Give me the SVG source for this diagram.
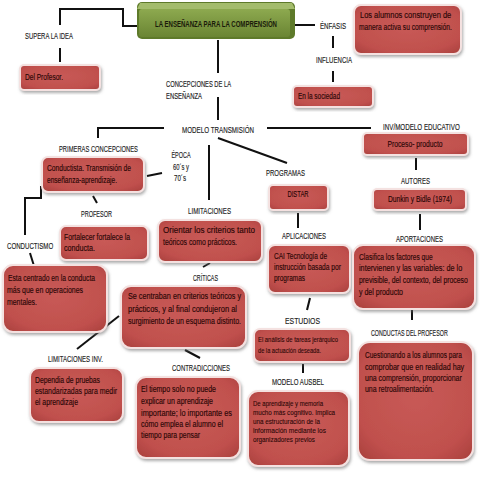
<svg xmlns="http://www.w3.org/2000/svg" width="480" height="480" viewBox="0 0 480 480">
<style>
text{font-family:"Liberation Sans",Arial,sans-serif;}
.lb{font-size:8.6px;fill:#1e1e1e;stroke:#1e1e1e;stroke-width:0.15;}
.bt{font-size:8.8px;fill:#2a0606;stroke:#2a0606;stroke-width:0.15;}
.bs{font-size:7.6px;fill:#2a0606;stroke:#2a0606;stroke-width:0.1;}
.box{fill:url(#rg);stroke:#f4e1e0;stroke-width:2;filter:url(#sh);}
.cn path{fill:none;stroke:#111;stroke-width:2;}
</style>
<defs>
<radialGradient id="rg" cx="50%" cy="45%" r="75%">
<stop offset="0" stop-color="#c85a56"/>
<stop offset="0.7" stop-color="#c0504d"/>
<stop offset="1" stop-color="#a63d3a"/>
</radialGradient>
<linearGradient id="gg" x1="0" y1="0" x2="0" y2="1">
<stop offset="0" stop-color="#8da94f"/>
<stop offset="1" stop-color="#6a8533"/>
</linearGradient>
<filter id="sh" x="-10%" y="-10%" width="125%" height="130%">
<feDropShadow dx="1" dy="2" stdDeviation="1.5" flood-color="#666" flood-opacity="0.55"/>
</filter>
</defs>
<rect width="480" height="480" fill="#ffffff"/>

<g class="cn" id="connectors">
<path d="M143,26 H123 V9 H60 V25"/>
<path d="M60,48 V62"/>
<path d="M218,40 V73"/>
<path d="M218,97 V120"/>
<path d="M164,128 H98 V138"/>
<path d="M267,128 H371"/>
<path d="M218,138 L287,163"/>
<path d="M209,145 V200"/>
<path d="M147,176 L162,173"/>
<path d="M93,196 L97,203"/>
<path d="M41,186 V198 H25 V235"/>
<path d="M30,253 L34,266"/>
<path d="M210,263 L203,267"/>
<path d="M119,316 L77,349"/>
<path d="M185,350 L200,358"/>
<path d="M292,25 H315"/>
<path d="M333,36 V48"/>
<path d="M333,71 V82"/>
<path d="M298,213 V228"/>
<path d="M416,158 V170"/>
<path d="M420,214 V230"/>
<path d="M310,298 L307,310"/>
<path d="M412,310 V320"/>
<path d="M303,364 V373"/>
</g>

<g id="title">
<rect x="137" y="2" width="158" height="37" rx="5" fill="#5e7a2a"/>
<polygon points="140,3 292,3 295,9 137,9" fill="#a4bc6c"/>
<rect x="139" y="9" width="151" height="28" rx="3" fill="url(#gg)"/>
<text x="216" y="27" text-anchor="middle" font-size="8.4" font-weight="bold" fill="#1a1a0a" textLength="122" lengthAdjust="spacingAndGlyphs">LA ENSEÑANZA PARA LA COMPRENSIÓN</text>
</g>

<g id="labels">
<text class="lb" x="25" y="39" textLength="48" lengthAdjust="spacingAndGlyphs">SUPERA LA IDEA</text>
<text class="lb" x="166" y="87" textLength="65" lengthAdjust="spacingAndGlyphs">CONCEPCIONES DE LA</text>
<text class="lb" x="166" y="99" textLength="36" lengthAdjust="spacingAndGlyphs">ENSEÑANZA</text>
<text class="lb" x="182" y="133" textLength="72" lengthAdjust="spacingAndGlyphs">MODELO TRANSMISIÓN</text>
<text class="lb" x="59" y="152" textLength="79" lengthAdjust="spacingAndGlyphs">PRIMERAS CONCEPCIONES</text>
<text class="lb" x="181" y="158" text-anchor="middle" textLength="19" lengthAdjust="spacingAndGlyphs">ÉPOCA</text>
<text class="lb" x="181" y="170" text-anchor="middle" textLength="16" lengthAdjust="spacingAndGlyphs">60´s y</text>
<text class="lb" x="180" y="181" text-anchor="middle" textLength="12" lengthAdjust="spacingAndGlyphs">70´s</text>
<text class="lb" x="320" y="29" textLength="26" lengthAdjust="spacingAndGlyphs">ÉNFASIS</text>
<text class="lb" x="316" y="63" textLength="36" lengthAdjust="spacingAndGlyphs">INFLUENCIA</text>
<text class="lb" transform="translate(383,130) scale(0.8,1)" textLength="96" lengthAdjust="spacingAndGlyphs">INV/MODELO EDUCATIVO</text>
<text class="lb" x="266" y="176" textLength="39" lengthAdjust="spacingAndGlyphs">PROGRAMAS</text>
<text class="lb" x="401" y="184" textLength="29" lengthAdjust="spacingAndGlyphs">AUTORES</text>
<text class="lb" x="282" y="239" textLength="44" lengthAdjust="spacingAndGlyphs">APLICACIONES</text>
<text class="lb" x="396" y="242" textLength="47" lengthAdjust="spacingAndGlyphs">APORTACIONES</text>
<text class="lb" x="188" y="214" textLength="43" lengthAdjust="spacingAndGlyphs">LIMITACIONES</text>
<text class="lb" x="81" y="217" textLength="31" lengthAdjust="spacingAndGlyphs">PROFESOR</text>
<text class="lb" transform="translate(7,249) scale(0.7,1)" textLength="66" lengthAdjust="spacingAndGlyphs">CONDUCTISMO</text>
<text class="lb" x="193" y="281" textLength="25" lengthAdjust="spacingAndGlyphs">CRÍTICAS</text>
<text class="lb" x="285" y="324" textLength="35" lengthAdjust="spacingAndGlyphs">ESTUDIOS</text>
<text class="lb" transform="translate(371,336) scale(0.8,1)" textLength="96" lengthAdjust="spacingAndGlyphs">CONDUCTAS DEL PROFESOR</text>
<text class="lb" x="48" y="362" textLength="55" lengthAdjust="spacingAndGlyphs">LIMITACIONES INV.</text>
<text class="lb" x="172" y="371" textLength="58" lengthAdjust="spacingAndGlyphs">CONTRADICCIONES</text>
<text class="lb" x="272" y="385" textLength="52" lengthAdjust="spacingAndGlyphs">MODELO AUSBEL</text>
</g>

<g id="n-del-profesor">
<rect class="box" x="20" y="65" width="80" height="25" rx="4"/>
<text class="bt" x="25" y="80" textLength="38" lengthAdjust="spacingAndGlyphs">Del Profesor.</text>
</g>
<g id="n-alumnos">
<rect class="box" x="354" y="5" width="107" height="49" rx="7"/>
<text class="bt" transform="translate(360,18) scale(0.8,1)" textLength="114" lengthAdjust="spacingAndGlyphs">Los alumnos construyen de</text>
<text class="bt" transform="translate(359,30) scale(0.8,1)" textLength="116" lengthAdjust="spacingAndGlyphs">manera activa su comprensión.</text>
</g>
<g id="n-sociedad">
<rect class="box" x="293" y="86" width="80" height="21" rx="4"/>
<text class="bt" x="298" y="99" textLength="42" lengthAdjust="spacingAndGlyphs">En la sociedad</text>
</g>
<g id="n-proceso">
<rect class="box" x="363" y="133" width="105" height="22" rx="4"/>
<text class="bt" x="415" y="147" text-anchor="middle" textLength="55" lengthAdjust="spacingAndGlyphs">Proceso- producto</text>
</g>
<g id="n-conductista">
<rect class="box" x="42" y="157" width="102" height="35" rx="6"/>
<text class="bt" x="47" y="171" textLength="84" lengthAdjust="spacingAndGlyphs">Conductista. Transmisión de</text>
<text class="bt" x="47" y="183" textLength="70" lengthAdjust="spacingAndGlyphs">enseñanza-aprendizaje.</text>
</g>
<g id="n-distar">
<rect class="box" x="269" y="185" width="59" height="25" rx="4"/>
<text class="bt" x="298" y="197" text-anchor="middle" textLength="21" lengthAdjust="spacingAndGlyphs">DISTAR</text>
</g>
<g id="n-dunkin">
<rect class="box" x="373" y="189" width="93" height="21" rx="4"/>
<text class="bt" x="420" y="202" text-anchor="middle" textLength="64" lengthAdjust="spacingAndGlyphs">Dunkin y Bidle (1974)</text>
</g>
<g id="n-fortalecer">
<rect class="box" x="60" y="226" width="88" height="34" rx="6"/>
<text class="bt" x="64" y="240" textLength="66" lengthAdjust="spacingAndGlyphs">Fortalecer fortalece la</text>
<text class="bt" x="64" y="251" textLength="31" lengthAdjust="spacingAndGlyphs">conducta.</text>
</g>
<g id="n-orientar">
<rect class="box" x="158" y="220" width="104" height="42" rx="7"/>
<text class="bt" x="163" y="233" textLength="92" lengthAdjust="spacingAndGlyphs">Orientar los criterios tanto</text>
<text class="bt" x="163" y="245" textLength="74" lengthAdjust="spacingAndGlyphs">teóricos como prácticos.</text>
</g>
<g id="n-cai">
<rect class="box" x="268" y="245" width="82" height="48" rx="7"/>
<text class="bt" x="274" y="259" textLength="53" lengthAdjust="spacingAndGlyphs">CAI Tecnología de</text>
<text class="bt" x="274" y="270" textLength="67" lengthAdjust="spacingAndGlyphs">instrucción basada por</text>
<text class="bt" x="274" y="281" textLength="31" lengthAdjust="spacingAndGlyphs">programas</text>
</g>
<g id="n-clasifica">
<rect class="box" x="353" y="245" width="122" height="64" rx="10"/>
<text class="bt" transform="translate(359,260) scale(0.8,1)" textLength="92" lengthAdjust="spacingAndGlyphs">Clasifica los factores que</text>
<text class="bt" transform="translate(359,271) scale(0.8,1)" textLength="129" lengthAdjust="spacingAndGlyphs">intervienen y las variables: de lo</text>
<text class="bt" transform="translate(359,283) scale(0.8,1)" textLength="136" lengthAdjust="spacingAndGlyphs">previsible, del contexto, del proceso</text>
<text class="bt" transform="translate(359,295) scale(0.8,1)" textLength="55" lengthAdjust="spacingAndGlyphs">y del producto</text>
</g>
<g id="n-esta-centrado">
<rect class="box" x="3" y="265" width="104" height="67" rx="10"/>
<text class="bt" x="8" y="281" textLength="87" lengthAdjust="spacingAndGlyphs">Esta centrado en la conducta</text>
<text class="bt" x="7" y="293" textLength="76" lengthAdjust="spacingAndGlyphs">más que en operaciones</text>
<text class="bt" x="7" y="305" textLength="30" lengthAdjust="spacingAndGlyphs">mentales.</text>
</g>
<g id="n-se-centraban">
<rect class="box" x="121" y="286" width="125" height="62" rx="10"/>
<text class="bt" x="128" y="299" textLength="113" lengthAdjust="spacingAndGlyphs">Se centraban en criterios teóricos y</text>
<text class="bt" x="128" y="312" textLength="109" lengthAdjust="spacingAndGlyphs">prácticos,  y  al final condujeron al</text>
<text class="bt" x="128" y="324" textLength="113" lengthAdjust="spacingAndGlyphs">surgimiento de un esquema distinto.</text>
</g>
<g id="n-analisis">
<rect class="box" x="254" y="329" width="96" height="33" rx="6"/>
<text class="bs" x="258" y="342" textLength="80" lengthAdjust="spacingAndGlyphs">El análisis de tareas jerárquico</text>
<text class="bs" x="258" y="353" textLength="63" lengthAdjust="spacingAndGlyphs">de la actuación deseada.</text>
</g>
<g id="n-cuestionando">
<rect class="box" x="358" y="342" width="115" height="118" rx="12"/>
<text class="bt" transform="translate(365,358) scale(0.8,1)" textLength="121" lengthAdjust="spacingAndGlyphs">Cuestionando a los alumnos para</text>
<text class="bt" transform="translate(365,370) scale(0.8,1)" textLength="124" lengthAdjust="spacingAndGlyphs">comprobar que  en  realidad hay</text>
<text class="bt" transform="translate(365,381) scale(0.8,1)" textLength="121" lengthAdjust="spacingAndGlyphs">una comprensión,  proporcionar</text>
<text class="bt" transform="translate(365,392) scale(0.8,1)" textLength="86" lengthAdjust="spacingAndGlyphs">una retroalimentación.</text>
</g>
<g id="n-dependia">
<rect class="box" x="30" y="368" width="93" height="54" rx="9"/>
<text class="bt" x="35" y="383" textLength="65" lengthAdjust="spacingAndGlyphs">Dependia de pruebas</text>
<text class="bt" x="35" y="394" textLength="82" lengthAdjust="spacingAndGlyphs">estandarizadas para medir</text>
<text class="bt" x="35" y="405" textLength="43" lengthAdjust="spacingAndGlyphs">el aprendizaje</text>
</g>
<g id="n-tiempo">
<rect class="box" x="136" y="377" width="104" height="81" rx="10"/>
<text class="bt" x="141" y="392" textLength="75" lengthAdjust="spacingAndGlyphs">El tiempo solo no puede</text>
<text class="bt" x="141" y="404" textLength="72" lengthAdjust="spacingAndGlyphs">explicar un aprendizaje</text>
<text class="bt" x="141" y="416" textLength="91" lengthAdjust="spacingAndGlyphs">importante; lo importante es</text>
<text class="bt" x="141" y="427" textLength="82" lengthAdjust="spacingAndGlyphs">cómo emplea el alumno el</text>
<text class="bt" x="141" y="438" textLength="59" lengthAdjust="spacingAndGlyphs">tiempo para pensar</text>
</g>
<g id="n-aprendizaje">
<rect class="box" x="248" y="391" width="101" height="75" rx="10"/>
<text class="bs" x="253" y="406" textLength="70" lengthAdjust="spacingAndGlyphs">De aprendizaje y memoria</text>
<text class="bs" x="253" y="415" textLength="82" lengthAdjust="spacingAndGlyphs">mucho más cognitivo. Implica</text>
<text class="bs" x="253" y="424" textLength="67" lengthAdjust="spacingAndGlyphs">una estructuración de la</text>
<text class="bs" x="253" y="433" textLength="73" lengthAdjust="spacingAndGlyphs">información mediante los</text>
<text class="bs" x="253" y="442" textLength="62" lengthAdjust="spacingAndGlyphs">organizadores previos</text>
</g>
</svg>
